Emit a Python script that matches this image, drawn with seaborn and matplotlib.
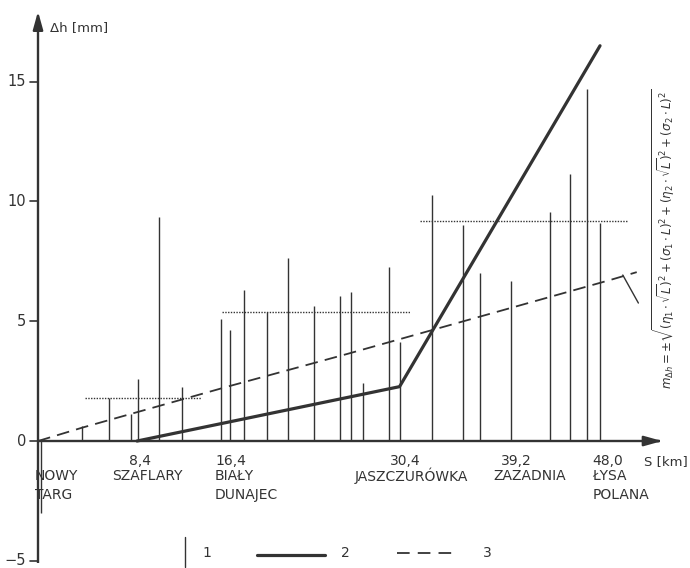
import matplotlib
matplotlib.use("Agg")
import matplotlib.pyplot as plt
import seaborn as sns
import numpy as np
import pandas as pd

# ---------------- data ----------------
# 1: individual section differences (S in km, delta h in mm)
bar_s = [0.26, 3.78, 6.08, 7.90, 8.55, 10.29, 12.30, 15.64, 16.33, 17.56, 19.52,
         21.27, 23.51, 25.72, 26.66, 27.71, 29.88, 30.84, 33.59, 36.27, 37.68,
         40.28, 43.61, 45.31, 46.80, 47.95]
bar_dh = [-3.0, 0.64, 1.78, 1.13, 2.59, 9.35, 2.27, 5.08, 4.63, 6.30, 5.40,
          7.63, 5.64, 6.05, 6.23, 2.41, 7.28, 4.15, 10.27, 9.02, 7.00,
          6.68, 9.57, 11.16, 14.68, 9.09]

# 2: solid polyline
line2_s = [8.44, 30.82, 47.91]
line2_dh = [0.0, 2.27, 16.5]

# 3: dashed curve (formula)
line3_s = [0.0, 3.78, 16.37, 26.32, 48.76, 51.04]
line3_dh = [0.0, 0.56, 2.30, 3.63, 6.72, 7.05]

# dotted section means
mean_s0 = [4.0, 15.69, 32.57]
mean_s1 = [13.9, 31.71, 50.21]
mean_dh = [1.80, 5.40, 9.20]

# station labels
st_km = ["8,4", "16,4", "30,4", "39,2", "48,0"]
st_names = ["NOWY\nTARG", "SZAFLARY", "BIAŁY\nDUNAJEC", "JASZCZURÓWKA", "ZAZADNIA", "ŁYSA\nPOLANA"]
yticks = [-5, 0, 5, 10, 15]

# ---------------- style ----------------
sns.set_theme(style="white")
plt.rcParams["font.family"] = ["DejaVu Sans"]
plt.rcParams["mathtext.fontset"] = "dejavusans"
INK = "#333333"

fig = plt.figure(figsize=(6.9, 5.68), dpi=100)
ax = fig.add_axes([0, 0, 1, 1])

# axes with arrows
ax.plot([0, 0], [-5.1, 17.6], color=INK, lw=1.7, solid_capstyle="butt")
ax.annotate("", xy=(0, 18.05), xytext=(0, 17.2),
            arrowprops=dict(arrowstyle="-|>,head_length=0.9,head_width=0.25", color=INK, lw=1.7))
ax.plot([0, 53.0], [0, 0], color=INK, lw=1.7, solid_capstyle="butt")
ax.annotate("", xy=(53.45, 0), xytext=(52.5, 0),
            arrowprops=dict(arrowstyle="-|>,head_length=0.9,head_width=0.25", color=INK, lw=1.7))

for t in yticks:
    ax.plot([-0.68, 0], [t, t], color=INK, lw=1.2)
    ax.text(-1.0, t, str(t).replace("-", "\u2212"), ha="right", va="center",
            fontsize=10.5, color=INK)

ax.text(1.02, 17.24, "Δh [mm]", ha="left", va="center", fontsize=9.5, color=INK)
ax.text(55.35, -0.84, "S [km]", ha="right", va="center", fontsize=9.5, color=INK)

# bars (1)
ax.vlines(bar_s, 0, bar_dh, color=INK, lw=1.0)

# dotted means
ax.hlines(mean_dh, mean_s0, mean_s1, color=INK, lw=1.0, linestyles=(0, (1, 1)))

# line 2 and 3 via seaborn
df2 = pd.DataFrame({"S": line2_s, "dh": line2_dh})
df3 = pd.DataFrame({"S": line3_s, "dh": line3_dh})
sns.lineplot(data=df2, x="S", y="dh", ax=ax, color=INK, lw=2.3, sort=False, estimator=None)
sns.lineplot(data=df3, x="S", y="dh", ax=ax, color=INK, lw=1.3, sort=False, estimator=None,
             dashes=False, linestyle=(0, (7, 4)))

# leader line to formula
ax.plot([49.85, 51.18], [6.93, 5.76], color=INK, lw=1.0)

# formula
formula = (r"$m_{\Delta h}=\pm\sqrt{(\eta_1\cdot\sqrt{L})^2+(\sigma_1\cdot L)^2"
           r"+(\eta_2\cdot\sqrt{L})^2+(\sigma_2\cdot L)^2}$")
ax.text(53.35, 8.45, formula, rotation=90, ha="center", va="center", fontsize=8.6, color=INK)

# station labels
fs = 10
r1, r2, r3 = -0.84, -1.46, -2.25
ax.text(-0.26, r2, "NOWY", ha="left", va="center", fontsize=fs, color=INK)
ax.text(-0.26, r3, "TARG", ha="left", va="center", fontsize=fs, color=INK)
ax.text(8.70, r1, st_km[0], ha="center", va="center", fontsize=fs, color=INK)
ax.text(9.29, r2, st_names[1], ha="center", va="center", fontsize=fs, color=INK)
ax.text(15.09, r1, st_km[1], ha="left", va="center", fontsize=fs, color=INK)
ax.text(15.09, r2, "BIAŁY", ha="left", va="center", fontsize=fs, color=INK)
ax.text(15.09, r3, "DUNAJEC", ha="left", va="center", fontsize=fs, color=INK)
ax.text(31.29, r1, st_km[2], ha="center", va="center", fontsize=fs, color=INK)
ax.text(31.80, r2, st_names[3], ha="center", va="center", fontsize=fs, color=INK)
ax.text(40.75, r1, st_km[3], ha="center", va="center", fontsize=fs, color=INK)
ax.text(41.94, r2, st_names[4], ha="center", va="center", fontsize=fs, color=INK)
ax.text(47.23, r1, st_km[4], ha="left", va="center", fontsize=fs, color=INK)
ax.text(47.23, r2, "ŁYSA", ha="left", va="center", fontsize=fs, color=INK)
ax.text(47.30, r3, "POLANA", ha="left", va="center", fontsize=fs, color=INK)

# legend
ax.plot([12.53, 12.53], [-4.01, -5.26], color=INK, lw=1.0)
ax.text(14.4, -4.68, "1", ha="center", va="center", fontsize=fs, color=INK)
ax.plot([18.67, 24.47], [-4.76, -4.76], color=INK, lw=2.3)
ax.text(26.17, -4.68, "2", ha="center", va="center", fontsize=fs, color=INK)
ax.plot([30.6, 35.8], [-4.66, -4.66], color=INK, lw=1.3, linestyle=(0, (7, 4.5)))
ax.text(38.28, -4.68, "3", ha="center", va="center", fontsize=fs, color=INK)

ax.set_xlim(-3.24, 55.58)
ax.set_ylim(-5.30, 18.41)
ax.axis("off")

fig.savefig("out.png", dpi=100)
